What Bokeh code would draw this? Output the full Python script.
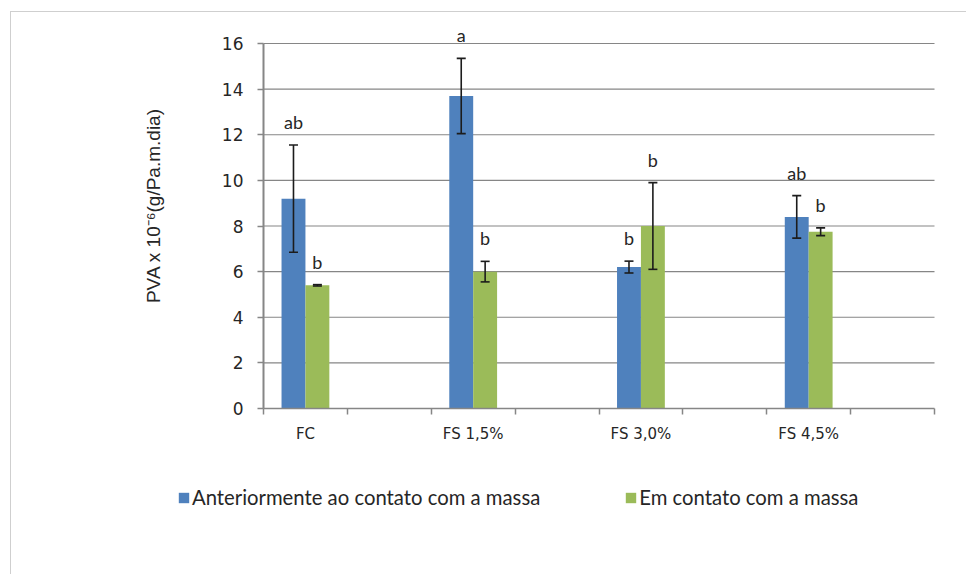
from bokeh.plotting import figure
from bokeh.models import (ColumnDataSource, Whisker, FixedTicker, Legend, LegendItem,
                          TeeHead, LinearAxis, Label)
from bokeh.core.properties import value
from bokeh.embed import file_html
from bokeh.resources import INLINE

# Water vapour permeability per film formulation
categories = ["FC", "FS 1,5%", "FS 3,0%", "FS 4,5%"]
series_names = ["Anteriormente ao contato com a massa", "Em contato com a massa"]

antes = [9.2, 13.7, 6.2, 8.4]
antes_err = [2.35, 1.65, 0.26, 0.93]
antes_letters = ["ab", "a", "b", "ab"]

contato = [5.4, 6.0, 8.0, 7.75]
contato_err = [0.03, 0.45, 1.9, 0.17]
contato_letters = ["b", "b", "b", "b"]

y_ticks = [0, 2, 4, 6, 8, 10, 12, 14, 16]
y_title = "PVA x 10\u207b\u2076(g/Pa.m.dia)"

BLUE = "#4F81BD"
GREEN = "#9BBB59"
AXIS_GRAY = "#868686"
ERR = "#1c1c1c"
TEXT = "#262626"

W, H = 966, 574
# plotting area in page pixels: x 263..934, y(0) at 408, y(16) at 43
AX_L, AX_R, AX_B, AX_T = 263, 934, 408, 43

# each category occupies two slots on the x axis; bars sit in the first one
n_slots = 2 * len(categories)
centers = [2 * i + 0.5 for i in range(len(categories))]
bar_w = 0.285
y_max = max(y_ticks)

# the frame spans the whole canvas so the legend and titles are not clipped;
# axes are pinned at the data origin
sx = (AX_R - AX_L) / n_slots
sy = (AX_B - AX_T) / y_max
x_range = (-AX_L / sx, n_slots + (W - AX_R) / sx)
y_range = (-(H - AX_B) / sy, y_max + AX_T / sy)

p = figure(width=W, height=H, x_range=x_range, y_range=y_range,
           output_backend="svg", toolbar_location=None, x_axis_type=None, y_axis_type=None,
           min_border=0)
p.outline_line_color = None
p.background_fill_color = "white"
p.border_fill_color = "white"
p.xgrid.visible = False
p.ygrid.visible = False

# horizontal gridlines, limited to the plotting area
grid_y = y_ticks[1:]
grid = p.segment(x0=[0] * len(grid_y), x1=[n_slots] * len(grid_y), y0=grid_y, y1=grid_y,
                 line_color=AXIS_GRAY, line_width=1.2)
grid.level = "underlay"

xaxis = LinearAxis(fixed_location=0, bounds=(0, n_slots),
                   ticker=FixedTicker(ticks=centers, minor_ticks=list(range(n_slots + 1))),
                   major_label_overrides={c: lab for c, lab in zip(centers, categories)},
                   major_tick_out=0, major_tick_in=0, minor_tick_out=6, minor_tick_in=0,
                   minor_tick_line_color=AXIS_GRAY, axis_line_color=AXIS_GRAY,
                   axis_line_width=1.5, minor_tick_line_width=1.5,
                   major_label_standoff=10, major_label_text_font="DejaVu Sans",
                   major_label_text_font_size="15px", major_label_text_color=TEXT)
p.add_layout(xaxis, "below")

yaxis = LinearAxis(fixed_location=0, bounds=(0, y_max),
                   ticker=FixedTicker(ticks=y_ticks, minor_ticks=[]),
                   major_tick_out=6, major_tick_in=0, major_tick_line_color=AXIS_GRAY,
                   major_tick_line_width=1.5,
                   axis_line_color=AXIS_GRAY, axis_line_width=2,
                   major_label_standoff=14, major_label_text_font="DejaVu Sans",
                   major_label_text_font_size="17px", major_label_text_color=TEXT)
p.add_layout(yaxis, "left")

src_a = ColumnDataSource(dict(
    x=[c - bar_w / 2 for c in centers], top=antes,
    upper=[v + e for v, e in zip(antes, antes_err)],
    lower=[v - e for v, e in zip(antes, antes_err)],
    letters=antes_letters))
src_c = ColumnDataSource(dict(
    x=[c + bar_w / 2 for c in centers], top=contato,
    upper=[v + e for v, e in zip(contato, contato_err)],
    lower=[v - e for v, e in zip(contato, contato_err)],
    letters=contato_letters))

r_a = p.vbar(x="x", top="top", width=bar_w, source=src_a,
             fill_color=BLUE, line_color=None)
r_c = p.vbar(x="x", top="top", width=bar_w, source=src_c,
             fill_color=GREEN, line_color=None)

for src in (src_a, src_c):
    p.add_layout(Whisker(
        source=src, base="x", upper="upper", lower="lower", level="overlay",
        line_color=ERR, line_width=1.6,
        upper_head=TeeHead(size=9, line_color=ERR, line_width=1.6),
        lower_head=TeeHead(size=9, line_color=ERR, line_width=1.6)))
    p.text(x="x", y="upper", text="letters", source=src,
           text_align="center", text_baseline="bottom", y_offset=-12,
           text_font=value("Lato"), text_font_size="18px", text_color=TEXT)

# vertical axis title, left of the tick labels
p.add_layout(Label(x=153, y=H - 205, x_units="screen", y_units="screen",
                   text=y_title, angle=90, angle_units="deg",
                   text_align="center", text_baseline="middle",
                   text_font="Liberation Sans", text_font_size="19px", text_color=TEXT))

legend = Legend(
    items=[LegendItem(label=series_names[0], renderers=[r_a]),
           LegendItem(label=series_names[1], renderers=[r_c])],
    orientation="horizontal", location=(177, H - 509),
    glyph_width=13, glyph_height=13, label_standoff=2, spacing=84,
    padding=0, margin=0, border_line_color=None, background_fill_alpha=0,
    label_text_font="Lato", label_text_font_size="20.3px", label_text_color=TEXT)
p.add_layout(legend)

# page style: thin border marking the chart area
page_style = """
{% block postamble %}
<style>
html, body { margin: 0; padding: 0; overflow: hidden; }
body::before {
  content: ""; position: fixed; left: 10px; top: 11px; right: -10px; bottom: -10px;
  border-left: 1px solid #cfcfcf; border-top: 1px solid #cfcfcf;
  pointer-events: none; z-index: 10;
}
</style>
{% endblock %}
"""

open("out.html", "w").write(file_html(p, INLINE, template=page_style))
